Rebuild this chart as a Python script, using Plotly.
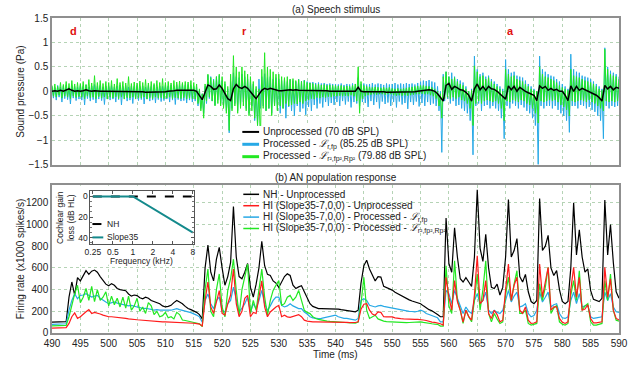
import plotly.graph_objects as go

FONT = "Liberation Sans, Arial, Helvetica, sans-serif"

# ---------------- data ----------------
t_start = 490.0
dt_fine = 0.25     # ms, processed stimulus waveforms
dt_coarse = 0.5    # ms, unprocessed stimulus and AN responses

stim_unprocessed = [
    0.00, 0.01, 0.00, 0.02, 0.00, 0.03, 0.05, 0.02, 0.00, 0.01,
    0.00, 0.01, 0.03, 0.01, 0.00, 0.01, 0.00, 0.00, 0.00, 0.00,
    0.00, -0.01, 0.00, -0.01, 0.00, -0.01, -0.01, 0.00, -0.01, -0.01,
    -0.01, -0.01, -0.01, -0.02, -0.02, -0.02, -0.01, -0.02, -0.02, -0.01,
    -0.01, 0.00, 0.00, 0.01, 0.02, 0.02, 0.03, 0.02, 0.02, 0.02,
    0.02, 0.00, -0.10, -0.17, -0.02, 0.13, 0.10, 0.04, 0.05, 0.13,
    0.06, -0.05, -0.15, -0.19, 0.05, 0.14, 0.08, 0.06, 0.10, 0.06,
    0.00, -0.08, -0.15, -0.05, 0.02, 0.06, 0.04, 0.06, 0.04, 0.02,
    0.01, 0.01, 0.02, 0.02, 0.03, 0.02, 0.03, 0.02, 0.02, 0.02,
    0.02, 0.02, 0.02, 0.01, 0.01, 0.01, 0.01, 0.01, 0.00, 0.00,
    0.00, 0.00, 0.00, 0.00, 0.00, 0.00, 0.00, 0.00, 0.08, 0.00,
    -0.01, -0.01, 0.00, -0.01, -0.01, -0.01, -0.01, -0.01, -0.02, -0.02,
    -0.02, -0.02, -0.02, -0.02, -0.02, -0.02, -0.01, -0.01, -0.01, 0.00,
    0.01, 0.02, 0.03, 0.03, 0.02, 0.00, -0.05, -0.12, -0.20, 0.12,
    0.16, 0.04, 0.10, 0.07, 0.03, 0.02, -0.02, -0.08, -0.20, 0.05,
    0.15, 0.03, 0.10, 0.02, 0.10, 0.05, 0.04, 0.00, -0.05, -0.10,
    -0.16, 0.11, 0.03, 0.10, 0.00, 0.08, 0.03, 0.00, -0.03, -0.05,
    -0.08, -0.19, 0.11, 0.06, 0.10, 0.02, 0.06, 0.02, 0.04, 0.00,
    0.00, -0.08, -0.19, 0.11, 0.00, 0.10, 0.02, 0.06, 0.03, 0.00,
    -0.02, -0.05, -0.08, -0.13, -0.20, 0.12, 0.05, 0.10, 0.03, 0.08,
    0.06,
]

stim_proc_lin = [
    0.10, -0.14, 0.08, -0.18, 0.12, -0.12, 0.09, -0.22, 0.11, -0.15, 0.13, -0.17, 0.08, -0.26, 0.12, -0.14, 0.10, -0.19, 0.09, -0.16,
    0.12, -0.18, 0.10, -0.28, 0.13, -0.15, 0.09, -0.20, 0.11, -0.17, 0.14, -0.24, 0.10, -0.16, 0.12, -0.19, 0.09, -0.27, 0.11, -0.15,
    0.10, -0.18, 0.12, -0.16, 0.09, -0.22, 0.11, -0.17, 0.13, -0.28, 0.10, -0.15, 0.12, -0.20, 0.09, -0.18, 0.11, -0.25, 0.10, -0.16,
    0.12, -0.19, 0.10, -0.17, 0.11, -0.26, 0.09, -0.16, 0.12, -0.20, 0.10, -0.18, 0.13, -0.24, 0.09, -0.17, 0.11, -0.21, 0.10, -0.19,
    0.12, -0.16, 0.11, -0.22, 0.13, -0.18, 0.10, -0.27, 0.14, -0.17, 0.12, -0.20, 0.15, -0.19, 0.13, -0.24, 0.14, -0.18, 0.12, -0.22,
    0.10, -0.20, 0.08, -0.30, 0.02, -0.35, -0.05, -0.45, 0.10, -0.25, 0.33, -0.15, 0.30, -0.20, 0.25, -0.28, 0.30, -0.18, 0.32, -0.25,
    0.22, -0.30, 0.15, -0.40, 0.05, -0.85, 0.20, -0.35, 0.38, -0.25, 0.30, -0.40, 0.28, -0.30, 0.35, -0.22, 0.30, -0.35, 0.25, -0.45,
    0.20, -0.30, 0.15, -0.60, 0.05, -0.70, 0.25, -0.35, 0.30, -0.30, 0.36, -0.40, 0.28, -0.35, 0.30, -0.45, 0.25, -0.30, 0.28, -0.38,
    0.25, -0.45, 0.22, -0.35, 0.26, -0.55, 0.20, -0.32, 0.24, -0.40, 0.22, -0.50, 0.20, -0.30, 0.25, -0.42, 0.21, -0.35, 0.23, -0.48,
    0.20, -0.32, 0.18, -0.40, 0.19, -0.28, 0.17, -0.35, 0.18, -0.25, 0.16, -0.33, 0.17, -0.22, 0.15, -0.30, 0.16, -0.24, 0.15, -0.28,
    0.15, -0.22, 0.14, -0.30, 0.16, -0.20, 0.13, -0.27, 0.15, -0.21, 0.14, -0.33, 0.16, -0.22, 0.15, -0.25, 0.28, -0.30, 0.15, -0.22,
    0.16, -0.24, 0.14, -0.32, 0.15, -0.20, 0.17, -0.28, 0.14, -0.22, 0.16, -0.35, 0.15, -0.21, 0.13, -0.26, 0.16, -0.23, 0.14, -0.30,
    0.15, -0.22, 0.17, -0.33, 0.14, -0.21, 0.16, -0.27, 0.15, -0.24, 0.17, -0.36, 0.15, -0.22, 0.16, -0.28, 0.14, -0.21, 0.17, -0.31,
    0.20, -0.24, 0.22, -0.30, 0.21, -0.22, 0.23, -0.28, 0.20, -0.25, 0.18, -0.30, 0.10, -0.40, 0.00, -1.25, 0.35, -0.20, 0.40, -0.15,
    0.30, -0.25, 0.38, -0.20, 0.30, -0.30, 0.25, -0.28, 0.22, -0.35, 0.18, -0.40, 0.10, -0.45, 0.00, -0.60, 0.05, -1.30, 0.72, -0.30,
    0.45, -0.25, 0.35, -0.40, 0.38, -0.30, 0.30, -0.28, 0.32, -0.35, 0.25, -0.30, 0.20, -0.35, 0.15, -0.40, 0.10, -0.55, 0.05, -0.97,
    0.65, -0.30, 0.45, -0.35, 0.38, -0.25, 0.40, -0.30, 0.32, -0.35, 0.30, -0.28, 0.28, -0.33, 0.22, -0.40, 0.15, -0.45, 0.10, -0.55,
    0.05, -0.70, 0.00, -1.50, 0.72, -0.30, 0.45, -0.35, 0.40, -0.30, 0.35, -0.30, 0.32, -0.35, 0.30, -0.30, 0.25, -0.38, 0.20, -0.45,
    0.15, -0.50, 0.10, -0.60, 0.05, -0.84, 0.76, -0.30, 0.45, -0.30, 0.40, -0.35, 0.38, -0.28, 0.32, -0.30, 0.30, -0.35, 0.28, -0.32,
    0.25, -0.38, 0.20, -0.42, 0.15, -0.50, 0.10, -0.60, 0.05, -0.97, 0.89, -0.30, 0.50, -0.35, 0.42, -0.30, 0.38, -0.32, 0.35, -0.30,
    0.30,
]

stim_proc_quad = [
    0.12, -0.10, 0.15, -0.12, 0.10, -0.08, 0.18, -0.14, 0.14, -0.10, 0.20, -0.12, 0.16, -0.15, 0.22, -0.10, 0.15, -0.13, 0.18, -0.11,
    0.16, -0.12, 0.20, -0.15, 0.14, -0.10, 0.24, -0.13, 0.17, -0.12, 0.32, -0.15, 0.18, -0.11, 0.22, -0.14, 0.16, -0.12, 0.20, -0.16,
    0.18, -0.12, 0.22, -0.14, 0.15, -0.11, 0.26, -0.15, 0.18, -0.12, 0.20, -0.16, 0.17, -0.13, 0.30, -0.14, 0.16, -0.12, 0.19, -0.15,
    0.17, -0.13, 0.21, -0.14, 0.18, -0.12, 0.24, -0.16, 0.17, -0.13, 0.20, -0.15, 0.16, -0.12, 0.22, -0.14, 0.18, -0.13, 0.26, -0.15,
    0.18, -0.14, 0.20, -0.12, 0.17, -0.15, 0.22, -0.13, 0.19, -0.14, 0.21, -0.15, 0.18, -0.13, 0.20, -0.16, 0.19, -0.14, 0.22, -0.15,
    0.18, -0.16, 0.15, -0.25, 0.05, -0.40, -0.05, -0.55, 0.15, -0.20, 0.35, -0.12, 0.28, -0.20, 0.22, -0.30, 0.30, -0.25, 0.35, -0.30,
    0.30, -0.35, 0.20, -0.45, 0.10, -0.80, 0.35, -0.40, 0.73, -0.30, 0.50, -0.45, 0.40, -0.35, 0.50, -0.30, 0.42, -0.40, 0.35, -0.50,
    0.30, -0.40, 0.20, -0.55, 0.10, -0.70, 0.05, -1.05, 0.45, -0.35, 0.79, -0.40, 0.50, -0.35, 0.45, -0.50, 0.40, -0.30, 0.35, -0.40,
    0.35, -0.30, 0.30, -0.35, 0.28, -0.25, 0.30, -0.30, 0.25, -0.28, 0.26, -0.25, 0.22, -0.26, 0.24, -0.22, 0.20, -0.25, 0.22, -0.20,
    0.18, -0.18, 0.17, -0.15, 0.16, -0.16, 0.14, -0.13, 0.15, -0.14, 0.13, -0.12, 0.14, -0.13, 0.12, -0.11, 0.13, -0.12, 0.12, -0.10,
    0.12, -0.10, 0.11, -0.09, 0.12, -0.10, 0.10, -0.09, 0.11, -0.10, 0.10, -0.08, 0.12, -0.10, 0.15, -0.20, 0.50, -0.45, 0.20, -0.15,
    0.12, -0.10, 0.10, -0.08, 0.09, -0.07, 0.08, -0.06, 0.09, -0.07, 0.08, -0.06, 0.07, -0.06, 0.08, -0.07, 0.07, -0.06, 0.08, -0.06,
    0.06, -0.08, 0.05, -0.09, 0.06, -0.08, 0.05, -0.09, 0.06, -0.08, 0.07, -0.09, 0.08, -0.08, 0.09, -0.07, 0.10, -0.06, 0.11, -0.06,
    0.12, -0.05, 0.12, -0.06, 0.11, -0.06, 0.10, -0.08, 0.08, -0.10, 0.05, -0.15, 0.00, -0.30, -0.05, -0.55, 0.30, -0.15, 0.40, -0.12,
    0.30, -0.15, 0.25, -0.12, 0.28, -0.15, 0.20, -0.12, 0.15, -0.18, 0.12, -0.20, 0.05, -0.25, 0.00, -0.35, 0.02, -0.70, 0.52, -0.25,
    0.40, -0.20, 0.30, -0.25, 0.32, -0.20, 0.25, -0.18, 0.28, -0.20, 0.20, -0.22, 0.15, -0.20, 0.10, -0.25, 0.05, -0.35, 0.00, -0.60,
    0.45, -0.20, 0.35, -0.22, 0.30, -0.18, 0.32, -0.20, 0.25, -0.22, 0.22, -0.18, 0.20, -0.20, 0.15, -0.25, 0.10, -0.28, 0.05, -0.35,
    0.02, -0.45, 0.00, -0.65, 0.50, -0.20, 0.35, -0.22, 0.30, -0.20, 0.28, -0.18, 0.25, -0.20, 0.22, -0.18, 0.18, -0.22, 0.12, -0.28,
    0.08, -0.32, 0.05, -0.38, 0.02, -0.50, 0.45, -0.20, 0.32, -0.22, 0.30, -0.20, 0.28, -0.18, 0.25, -0.20, 0.22, -0.22, 0.20, -0.18,
    0.18, -0.22, 0.15, -0.25, 0.10, -0.30, 0.05, -0.35, 0.02, -0.40, 0.86, -0.20, 0.45, -0.22, 0.35, -0.20, 0.32, -0.22, 0.30, -0.20,
    0.25,
]

rate_nh = [
    100, 100, 100, 100, 100, 105, 330, 470, 350, 510,
    480, 530, 575, 540, 570, 580, 560, 520, 480, 450,
    435, 455, 440, 410, 400, 395, 390, 360, 340, 350,
    345, 325, 315, 330, 320, 300, 290, 280, 270, 250,
    240, 245, 255, 280, 300, 285, 270, 245, 225, 215,
    205, 190, 170, 130, 600, 810, 560, 480, 680, 790,
    600, 440, 520, 650, 1165, 700, 520, 500, 560, 640,
    420, 330, 450, 600, 845, 620, 540, 530, 480, 460,
    420, 470, 520, 545, 530, 440, 410, 425, 435, 380,
    320, 270, 245, 235, 225, 225, 225, 222, 220, 225,
    225, 220, 215, 210, 205, 200, 198, 195, 210, 460,
    620, 670, 590, 530, 480, 520, 515, 430, 420, 405,
    395, 375, 360, 350, 335, 315, 305, 295, 285, 275,
    270, 250, 230, 215, 205, 190, 170, 150, 150, 1060,
    640, 560, 970, 700, 500, 470, 510, 470, 430, 700,
    1320, 780, 660, 910, 600, 420, 410, 450, 350, 420,
    700, 1230, 700, 760, 870, 520, 470, 540, 380, 290,
    270, 300, 1240, 760, 800, 900, 600, 530, 575, 400,
    290, 270, 290, 600, 1200, 720, 950, 700, 560, 590,
    390, 310, 300, 290, 320, 1225, 720, 1000, 650, 380,
    320,
]

rate_hi_unproc = [
    45, 45, 45, 45, 45, 50, 88, 150, 185, 135,
    150, 175, 195, 215, 180, 190, 185, 175, 165, 155,
    150, 150, 148, 145, 143, 140, 135, 130, 125, 125,
    122, 120, 118, 115, 112, 108, 103, 103, 103, 102,
    103, 102, 100, 100, 100, 98, 97, 95, 94, 92,
    90, 86, 82, 65, 300, 470, 240, 180, 300, 390,
    180, 165, 270, 350, 590, 270, 150, 200, 320, 346,
    150, 190, 180, 330, 480, 240, 150, 194, 220, 240,
    255, 150, 164, 149, 145, 155, 165, 170, 150, 118,
    110, 105, 103, 103, 103, 103, 103, 103, 103, 103,
    103, 103, 103, 100, 98, 95, 94, 97, 103, 220,
    265, 270, 210, 175, 164, 195, 190, 150, 149, 149,
    149, 140, 134, 132, 130, 127, 125, 125, 125, 125,
    125, 120, 115, 105, 100, 98, 94, 85, 73, 514,
    330, 210, 483, 290, 210, 100, 210, 150, 118, 350,
    711, 270, 300, 483, 180, 134, 210, 170, 103, 118,
    400, 635, 300, 440, 514, 210, 180, 240, 118, 88,
    92, 103, 635, 331, 470, 605, 210, 240, 240, 134,
    100, 88, 103, 400, 605, 331, 514, 210, 220, 260,
    134, 94, 94, 100, 103, 605, 331, 498, 210, 134,
    120,
]

rate_hi_proc_lin = [
    80, 80, 80, 80, 80, 85, 210, 300, 362, 316,
    346, 350, 362, 345, 331, 340, 346, 320, 300, 285,
    270, 280, 286, 275, 270, 260, 255, 250, 255, 245,
    240, 235, 225, 228, 225, 218, 210, 215, 210, 212,
    216, 212, 210, 218, 225, 215, 210, 200, 195, 188,
    180, 165, 149, 100, 300, 360, 270, 225, 300, 331,
    209, 194, 270, 300, 422, 300, 194, 230, 270, 331,
    194, 270, 225, 300, 392, 270, 209, 250, 300, 331,
    331, 255, 240, 250, 270, 250, 240, 225, 225, 194,
    175, 150, 140, 135, 133, 135, 140, 145, 149, 160,
    164, 150, 140, 135, 134, 130, 125, 118, 134, 300,
    316, 300, 255, 245, 240, 250, 255, 245, 240, 230,
    225, 222, 215, 210, 210, 205, 200, 198, 195, 200,
    210, 200, 180, 170, 160, 149, 140, 103, 103, 392,
    362, 270, 392, 320, 240, 180, 240, 200, 180, 300,
    362, 270, 300, 377, 210, 180, 210, 190, 180, 210,
    300, 392, 286, 340, 377, 240, 250, 270, 180, 149,
    160, 210, 377, 286, 330, 377, 240, 260, 270, 180,
    140, 134, 149, 300, 377, 270, 362, 240, 250, 255,
    149, 134, 140, 145, 149, 377, 300, 362, 240, 195,
    190,
]

rate_hi_proc_quad = [
    65, 65, 65, 65, 65, 70, 150, 270, 360, 440,
    280, 330, 410, 300, 430, 290, 400, 300, 330, 380,
    250, 340, 260, 320, 240, 330, 230, 340, 210, 250,
    320, 200, 240, 180, 280, 250, 170, 200, 150, 160,
    190, 140, 150, 130, 190, 170, 120, 115, 110, 105,
    100, 95, 85, 60, 400, 590, 200, 150, 400, 544,
    240, 148, 392, 500, 680, 392, 164, 400, 513, 635,
    179, 300, 209, 400, 589, 331, 164, 300, 392, 440,
    483, 255, 270, 330, 346, 300, 330, 392, 300, 209,
    190, 179, 150, 133, 125, 118, 115, 110, 107, 105,
    103, 103, 100, 98, 95, 92, 88, 90, 100, 270,
    514, 210, 134, 150, 164, 130, 118, 110, 105, 103,
    103, 100, 98, 96, 94, 95, 97, 100, 103, 100,
    103, 98, 92, 88, 85, 82, 80, 64, 64, 620,
    250, 180, 665, 300, 210, 88, 210, 150, 103, 300,
    544, 210, 400, 665, 180, 103, 180, 130, 88, 103,
    350, 514, 300, 450, 574, 180, 180, 210, 88, 73,
    80, 88, 453, 300, 420, 605, 180, 230, 255, 103,
    80, 73, 88, 350, 483, 300, 574, 210, 250, 270,
    103, 73, 73, 80, 88, 483, 300, 544, 210, 118,
    110,
]

inset_freq_khz = [0.25, 1, 8]
inset_nh_loss = [0, 0, 0]
inset_slope35_loss = [0, 0, 35]

phoneme_labels = ["d", "r", "a"]
phoneme_times = [493.8, 523.9, 570.9]
phoneme_level = 1.24

top_legend = [
    "Unprocessed (70 dB SPL)",
    "Processed - <i>ℒ</i><sub>r,fp</sub> (85.25 dB SPL)",
    "Processed - <i>ℒ</i><sub>r²,fp²,Rp²</sub> (79.88 dB SPL)",
]
bottom_legend = [
    "NH - Unprocessed",
    "HI (Slope35-7,0,0) - Unprocessed",
    "HI (Slope35-7,0,0) - Processed - <i>ℒ</i><sub>r,fp</sub>",
    "HI (Slope35-7,0,0) - Processed - <i>ℒ</i><sub>r²,fp²,Rp²</sub>",
]

# ---------------- styles ----------------
BLACK = "#000000"
BLUE = "#27a9e6"
GREEN = "#22e822"
RED = "#ff1c1c"
TEAL = "#148a8c"
GRID = "rgba(120,175,120,0.55)"
FRAME = "#8f8f8f"

W, H = 640, 378
ML, MR, MT, MB = 52, 13, 15, 45
PW, PH = W - ML - MR, H - MT - MB


def px(x):
    return (x - ML) / PW


def py(y):
    return (H - MB - y) / PH


fig = go.Figure()

# top panel
fig.add_trace(go.Scatter(x0=t_start, dx=dt_fine, y=stim_proc_lin, mode="lines",
                         line=dict(color=BLUE, width=1), xaxis="x", yaxis="y", showlegend=False))
fig.add_trace(go.Scatter(x0=t_start, dx=dt_fine, y=stim_proc_quad, mode="lines",
                         line=dict(color=GREEN, width=1), xaxis="x", yaxis="y", showlegend=False))
fig.add_trace(go.Scatter(x0=t_start, dx=dt_coarse, y=stim_unprocessed, mode="lines",
                         line=dict(color=BLACK, width=1.5), xaxis="x", yaxis="y", showlegend=False))

# bottom panel
fig.add_trace(go.Scatter(x0=t_start, dx=dt_coarse, y=rate_nh, mode="lines",
                         line=dict(color=BLACK, width=1.2), xaxis="x2", yaxis="y2", showlegend=False))
fig.add_trace(go.Scatter(x0=t_start, dx=dt_coarse, y=rate_hi_proc_lin, mode="lines",
                         line=dict(color=BLUE, width=1.2), xaxis="x2", yaxis="y2", showlegend=False))
fig.add_trace(go.Scatter(x0=t_start, dx=dt_coarse, y=rate_hi_proc_quad, mode="lines",
                         line=dict(color=GREEN, width=1.2), xaxis="x2", yaxis="y2", showlegend=False))
fig.add_trace(go.Scatter(x0=t_start, dx=dt_coarse, y=rate_hi_unproc, mode="lines",
                         line=dict(color=RED, width=1.2), xaxis="x2", yaxis="y2", showlegend=False))

# inset
fig.add_trace(go.Scatter(x=inset_freq_khz, y=inset_nh_loss, mode="lines",
                         line=dict(color=BLACK, width=2, dash="dash"), xaxis="x3", yaxis="y3", showlegend=False))
fig.add_trace(go.Scatter(x=inset_freq_khz, y=inset_slope35_loss, mode="lines",
                         line=dict(color=TEAL, width=2), xaxis="x3", yaxis="y3", showlegend=False))

axis_common = dict(showgrid=True, gridcolor=GRID, griddash="dot", gridwidth=1,
                   showline=True, mirror=True, linecolor=FRAME, linewidth=1.5,
                   zeroline=False, ticks="", tickfont=dict(family=FONT, size=10, color="#222"))

top_dom = [py(163), 1.0]
bot_dom = [0.0, py(184)]

fig.update_layout(
    width=W, height=H,
    margin=dict(l=ML, r=MR, t=MT, b=MB),
    paper_bgcolor="white", plot_bgcolor="white",
    font=dict(family=FONT, size=10, color="#222"),
    showlegend=False,
    xaxis=dict(domain=[0, 1], anchor="y", range=[490, 590], tick0=490, dtick=5,
               showticklabels=False, **axis_common),
    yaxis=dict(domain=top_dom, anchor="x", range=[-1.5, 1.5], dtick=0.5, **axis_common),
    xaxis2=dict(domain=[0, 1], anchor="y2", range=[490, 590], tick0=490, dtick=5, **axis_common),
    yaxis2=dict(domain=bot_dom, anchor="x2", range=[0, 1360], dtick=200, **axis_common),
    xaxis3=dict(domain=[px(91), px(196)], anchor="y3", type="log",
                range=[-0.638, 0.919], tickvals=[0.25, 0.5, 1, 2, 4, 8],
                ticktext=["0.25", "0.5", "1", "2", "4", "8"],
                showgrid=False, zeroline=False, showline=True, mirror="ticks",
                linecolor="#555", linewidth=1, ticks="inside", ticklen=3, tickcolor="#555",
                tickfont=dict(family=FONT, size=8.5, color="#222")),
    yaxis3=dict(domain=[py(243), py(190)], anchor="x3", range=[46, -5],
                tickvals=[0, 20, 40], showgrid=False, zeroline=False, showline=True,
                mirror="ticks", linecolor="#555", linewidth=1, ticks="inside", ticklen=3,
                tickcolor="#555", minor=dict(ticks="inside", ticklen=2, dtick=5, tickcolor="#777"),
                tickfont=dict(family=FONT, size=8.5, color="#222")),
)

shapes = []
ann = []

# white backing behind the inset (covers main-panel grid, below traces)
shapes.append(dict(type="rect", xref="x2", yref="y2", x0=490, x1=514.9, y0=630, y1=1360,
                   fillcolor="white", line=dict(width=0), layer="between"))

# top legend (white box over the waveform)
shapes.append(dict(type="rect", xref="paper", yref="paper", x0=px(243), x1=px(407),
                   y0=py(162), y1=py(124), fillcolor="white", line=dict(width=0), layer="above"))
for label, color, yrow in zip(top_legend, [BLACK, BLUE, GREEN], [130, 142.5, 155]):
    shapes.append(dict(type="line", xref="paper", yref="paper", x0=px(245), x1=px(262),
                       y0=py(yrow), y1=py(yrow), line=dict(color=color, width=2 if color == BLACK else 3),
                       layer="above"))
    ann.append(dict(xref="paper", yref="paper", x=px(264), y=py(yrow), text=label,
                    showarrow=False, xanchor="left", yanchor="middle",
                    font=dict(family=FONT, size=10, color="#222")))

# bottom legend
for label, color, yrow in zip(bottom_legend, [BLACK, RED, BLUE, GREEN], [193, 204.5, 216, 227.5]):
    shapes.append(dict(type="line", xref="paper", yref="paper", x0=px(246), x1=px(262),
                       y0=py(yrow), y1=py(yrow), line=dict(color=color, width=1.5), layer="above"))
    ann.append(dict(xref="paper", yref="paper", x=px(264), y=py(yrow), text=label,
                    showarrow=False, xanchor="left", yanchor="middle",
                    font=dict(family=FONT, size=10, color="#222")))

# inset legend
shapes.append(dict(type="line", xref="paper", yref="paper", x0=px(93), x1=px(104),
                   y0=py(223), y1=py(223), line=dict(color=BLACK, width=2, dash="dash"), layer="above"))
shapes.append(dict(type="line", xref="paper", yref="paper", x0=px(93), x1=px(104),
                   y0=py(236.5), y1=py(236.5), line=dict(color=TEAL, width=2), layer="above"))
ann.append(dict(xref="paper", yref="paper", x=px(106), y=py(223), text="NH", showarrow=False,
                xanchor="left", yanchor="middle", font=dict(family=FONT, size=8.5, color="#222")))
ann.append(dict(xref="paper", yref="paper", x=px(106), y=py(236.5), text="Slope35", showarrow=False,
                xanchor="left", yanchor="middle", font=dict(family=FONT, size=8.5, color="#222")))

# inset axis titles
ann.append(dict(xref="paper", yref="paper", x=px(143), y=py(260), text="Frequency (kHz)",
                showarrow=False, xanchor="center", yanchor="middle",
                font=dict(family=FONT, size=8.5, color="#222")))
ann.append(dict(xref="paper", yref="paper", x=px(65), y=py(216), text="Cochlear gain<br>loss (dB HL)",
                showarrow=False, textangle=-90, xanchor="center", yanchor="middle",
                font=dict(family=FONT, size=8.5, color="#222")))

# panel titles and axis titles
ann.append(dict(xref="paper", yref="paper", x=px(340), y=py(6), text="(a) Speech stimulus",
                showarrow=False, xanchor="center", yanchor="middle", font=dict(family=FONT, size=10, color="#222")))
ann.append(dict(xref="paper", yref="paper", x=px(340), y=py(176), text="(b) AN population response",
                showarrow=False, xanchor="center", yanchor="middle", font=dict(family=FONT, size=10, color="#222")))
ann.append(dict(xref="paper", yref="paper", x=px(340), y=py(355), text="Time (ms)",
                showarrow=False, xanchor="center", yanchor="middle", font=dict(family=FONT, size=10, color="#222")))
ann.append(dict(xref="paper", yref="paper", x=px(20), y=py(89), text="Sound pressure (Pa)", textangle=-90,
                showarrow=False, xanchor="center", yanchor="middle", font=dict(family=FONT, size=10, color="#222")))
ann.append(dict(xref="paper", yref="paper", x=px(20), y=py(258), text="Firing rate (x1000 spikes/s)",
                textangle=-90, showarrow=False, xanchor="center", yanchor="middle",
                font=dict(family=FONT, size=10, color="#222")))

# phoneme markers
for lab, tt in zip(phoneme_labels, phoneme_times):
    ann.append(dict(xref="x", yref="y", x=tt, y=phoneme_level, text="<b>%s</b>" % lab, showarrow=False,
                    xanchor="center", yanchor="middle", font=dict(family=FONT, size=11, color="#e01010")))

fig.update_layout(shapes=shapes, annotations=ann)
fig.write_html("out.html", config={"displayModeBar": False},
               post_script="document.body.style.margin='0';document.body.style.overflow='hidden';")
